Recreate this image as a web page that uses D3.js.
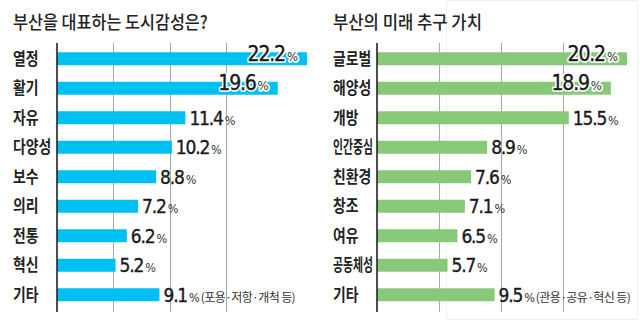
<!DOCTYPE html>
<html><head><meta charset="utf-8">
<script src="https://cdn.jsdelivr.net/npm/d3@7"></script>
<style>
html,body{margin:0;padding:0;background:#fff;}
svg{display:block;}
</style></head>
<body>
<svg id="c" width="640" height="321"></svg>
<script>
// ---- data ----
const leftTitle = "부산을 대표하는 도시감성은?";
const leftCategories = ["열정","활기","자유","다양성","보수","의리","전통","혁신","기타"];
const leftValues = [22.2,19.6,11.4,10.2,8.8,7.2,6.2,5.2,9.1];
const leftNote = "(포용·저항·개척 등)";

const rightTitle = "부산의 미래 추구 가치";
const rightCategories = ["글로벌","해양성","개방","인간중심","친환경","창조","여유","공동체성","기타"];
const rightValues = [20.2,18.9,15.5,8.9,7.6,7.1,6.5,5.7,9.5];
const rightNote = "(관용·공유·혁신 등)";

const gridTicks = [5,10,15];

// ---- drawing ----
const svg = d3.select("#c");
const KR = "'Noto Sans CJK KR','Noto Sans',sans-serif";
const NUM = "'Liberation Sans Narrow','DejaVu Sans Condensed','Liberation Sans',sans-serif";

// faint frame on right panel
svg.append("rect").attr("x",446.5).attr("y",0.5).attr("width",191).attr("height",319)
  .attr("fill","none").attr("stroke","#efefef").attr("stroke-width",1);

function panel(opts){
  const g = svg.append("g");
  const x = d3.scaleLinear().domain([0, d3.max(opts.values)]).range([opts.x0, opts.x0+250]);
  const y = d3.scaleBand().domain(opts.categories).range([44, 44+29.5*opts.categories.length]).paddingInner(0.56).paddingOuter(0.28);
  const bh = y.bandwidth();

  // title
  g.append("text").text(opts.title)
    .attr("font-family",KR).attr("font-weight",500).attr("font-size",18).attr("fill","#222")
    .each(function(){
      const w = this.getComputedTextLength();
      d3.select(this).attr("transform",`translate(${opts.lx},29) scale(${opts.titleW/w},1)`);
    });

  // grid
  g.selectAll("line.grid").data(gridTicks).join("line")
    .attr("x1",d=>Math.round(x(d))+0.5).attr("x2",d=>Math.round(x(d))+0.5)
    .attr("y1",43).attr("y2",312).attr("stroke","#a8a8a8").attr("stroke-width",1);

  // bars
  g.selectAll("rect.bar").data(opts.values).join("rect")
    .attr("x",x(0)).attr("y",(d,i)=>y(opts.categories[i]))
    .attr("width",d=>x(d)-x(0)).attr("height",bh)
    .attr("fill",opts.color);

  // axis
  g.append("line").attr("x1",x(0)).attr("x2",x(0)).attr("y1",43).attr("y2",312)
    .attr("stroke","#222").attr("stroke-width",1.6);

  // category labels
  g.selectAll("text.cat").data(opts.categories).join("text")
    .text(d=>d)
    .attr("font-family",KR).attr("font-weight",700).attr("font-size",16.5).attr("fill","#222")
    .each(function(d){
      const w = this.getComputedTextLength();
      const sx = Math.min(0.84, 40/w);
      const cy = y(d)+bh/2;
      d3.select(this).attr("transform",`translate(${opts.lx},${cy+5.8}) scale(${sx},1)`);
    });

  // value labels
  const panelRight = opts.x0 + 263;
  opts.values.forEach((v,i)=>{
    const cat = opts.categories[i];
    const cy = y(cat)+bh/2;
    const end = x(v);
    const inside = end + 48 > panelRight;
    const txt = g.append("text").attr("font-family",NUM).attr("fill","#1a1a1a");
    txt.append("tspan").text(v.toFixed(1)).attr("font-size",inside?21:19).attr("font-weight",400).attr("letter-spacing",-1.2)
      .attr("stroke", "#1a1a1a").attr("stroke-width",0.35);
    txt.append("tspan").text("%").attr("font-size",inside?13:12.5).attr("dx",2).attr("fill","#333").attr("stroke","none");
    if(i===opts.values.length-1){
      txt.append("tspan").text(opts.note).attr("font-family",KR).attr("font-size",12).attr("dx",1).attr("fill","#333")
        .attr("letter-spacing",-0.6).attr("stroke","none");
    }
    if(inside){
      const halo = txt.clone(true).lower();
      [txt, halo].forEach(s=>s.attr("text-anchor","end").attr("x",end-9).attr("y",cy+2));
      halo.selectAll("tspan").attr("stroke","#fff").attr("stroke-width",3.5).attr("stroke-linejoin","round").attr("fill","#fff");
      halo.raise(); txt.raise();
    } else {
      txt.attr("x",end+4).attr("y",cy+7);
    }
  });
}

panel({title:leftTitle,categories:leftCategories,values:leftValues,note:leftNote,x0:57,lx:13,titleW:195,color:"#00bff1"});
panel({title:rightTitle,categories:rightCategories,values:rightValues,note:rightNote,x0:377,lx:333,titleW:149,color:"#87c879"});
</script>
</body></html>
